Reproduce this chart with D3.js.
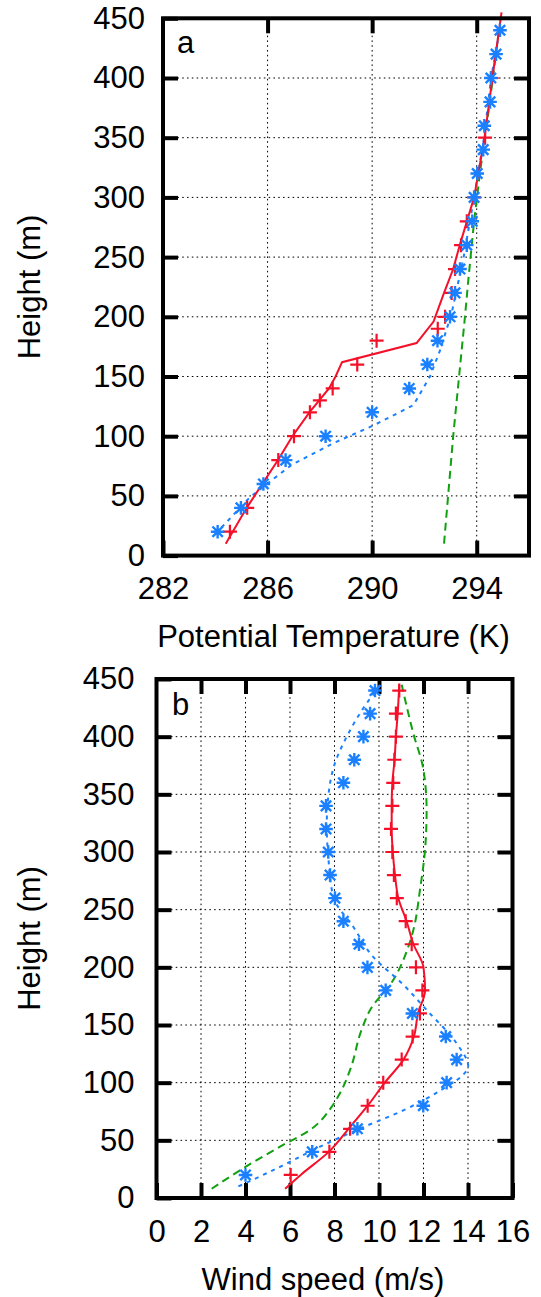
<!DOCTYPE html>
<html>
<head>
<meta charset="utf-8">
<script src="https://cdn.jsdelivr.net/npm/d3@7"></script>
<style>
  html, body { margin: 0; padding: 0; background: #fff; }
  svg { display: block; }
  text { font-family: "Liberation Sans", Arial, Helvetica, sans-serif; fill: #000; }
</style>
</head>
<body>
<svg id="chart" width="541" height="1297"></svg>
<script>
// ---------------- Panel a: potential temperature ----------------
const obsHeightsA = [20,40,60,80,100,120,140,160,180,200,220,240,260,280,300,320,340,360,380,400,420,440];
const obsThetaA   = [284.09,284.98,285.84,286.69,288.22,290.0,291.42,292.11,292.5,292.98,293.17,293.36,293.62,293.83,293.9,294.02,294.25,294.29,294.51,294.54,294.74,294.89];

const plusHeightsA = [20,40,80,100,120,130,140,160,180,190,200,220,240,260,280,300,350,400];
const plusThetaA   = [284.56,285.22,286.41,287.01,287.62,288.0,288.49,289.43,290.17,292.51,292.79,293.04,293.17,293.4,293.62,293.91,294.32,294.57];

const redLineHeightsA = [10,40,80,100,120,140,150,162,178,196,220,240,260,300,350,400,455];
const redLineThetaA   = [284.4,285.2,286.4,286.95,287.6,288.35,288.6,288.85,291.7,292.35,292.75,293.1,293.35,293.9,294.3,294.6,294.95];

const blueLineHeightsA = [18,49,76,94,109,126,150,172,203,250,300,350,400,440];
const blueLineThetaA   = [284.0,285.33,286.92,288.5,290.05,291.58,292.21,292.6,293.04,293.5,293.9,294.28,294.55,294.88];

const greenLineHeightsA = [10,100,200,231,280,320,380,440];
const greenLineThetaA   = [292.75,293.1,293.55,293.68,293.9,294.12,294.5,294.85];

const xTicksA = [282,286,290,294];
const xGridA  = [286,290,294];

// ---------------- Panel b: wind speed ----------------
const obsHeightsB = [20,40,60,80,100,120,140,160,180,200,220,240,260,280,300,320,340,360,380,400,420,440];
const obsWindB    = [4.0,7.0,9.03,11.99,13.04,13.49,13.0,11.5,10.3,9.48,9.1,8.4,8.02,7.8,7.72,7.62,7.62,8.4,8.89,9.3,9.6,9.82];

const plusHeightsB = [20,40,60,80,100,120,140,160,180,200,220,240,260,280,300,320,340,360,380,400,420,440];
const plusWindB    = [6.03,7.77,8.7,9.49,10.19,11.02,11.51,11.84,11.95,11.66,11.47,11.2,10.8,10.67,10.6,10.54,10.6,10.64,10.69,10.76,10.76,10.91];

const redLineHeightsB = [8,20,40,60,80,100,120,140,160,180,200,220,240,260,280,300,320,340,360,380,400,420,445];
const redLineWindB    = [5.78,6.48,7.74,8.63,9.49,10.26,11.1,11.57,11.75,12.07,12.0,11.55,11.24,10.87,10.72,10.62,10.57,10.57,10.6,10.7,10.76,10.84,10.91];

const blueLineHeightsB = [10,27,44.5,59,76,94,107,114,134,163,185,209,235,261,296,322,348,377,400,429,446];
const blueLineWindB    = [3.68,5.55,7.35,9.0,11.09,12.82,13.79,14.01,13.49,12.14,11.09,9.74,8.85,7.95,7.72,7.65,7.72,8.02,8.55,9.45,10.12];

const greenLineHeightsB = [8,24,44.5,59,79,91,111,146,163,189,218,232,267,302,336,371,403,445];
const greenLineWindB    = [2.48,3.75,5.55,6.9,7.87,8.25,8.7,9.22,9.6,10.64,11.32,11.54,11.84,12.07,12.14,12.0,11.54,11.02];

const xTicksB = [0,2,4,6,8,10,12,14,16];
const xGridB  = [2,4,6,8,10,12,14];

const yTicks = [0,50,100,150,200,250,300,350,400,450];
const yGrid  = [50,100,150,200,250,300,350,400];

// ---------------- drawing ----------------
const RED = "#f5102a", BLUE = "#1a80ff", GREEN = "#10a010";
const FONT = 31;
const svg = d3.select("#chart");

function zip(hs, vs) { return hs.map((h, i) => ({h: h, v: vs[i]})); }

function panel(cfg) {
  const x = d3.scaleLinear().domain(cfg.xDomain).range(cfg.xRange);
  const y = d3.scaleLinear().domain([0,450]).range(cfg.yRange);
  const g = svg.append("g");
  const [x0, x1] = cfg.xRange, [y0, y1] = cfg.yRange; // y0 bottom, y1 top

  // grid
  g.append("g").selectAll("line").data(cfg.xGrid).join("line")
    .attr("x1", d => x(d)).attr("x2", d => x(d)).attr("y1", y0).attr("y2", y1)
    .attr("stroke", "#000").attr("stroke-width", 1).attr("stroke-dasharray", "1.6,3.2");
  g.append("g").selectAll("line").data(yGrid).join("line")
    .attr("y1", d => y(d)).attr("y2", d => y(d)).attr("x1", x0).attr("x2", x1)
    .attr("stroke", "#000").attr("stroke-width", 1).attr("stroke-dasharray", "1.6,3.2");

  // axes (ticks inward)
  const styleAxis = sel => {
    sel.select(".domain").remove();
    sel.selectAll(".tick line").attr("stroke", "#000").attr("stroke-width", 4);
    sel.selectAll("text").attr("font-size", FONT).attr("font-family", "Liberation Sans, Arial, sans-serif").attr("fill", "#000");
  };
  g.append("g").attr("transform", `translate(0,${y0})`)
    .call(d3.axisBottom(x).tickValues(cfg.xTicks).tickSize(-15).tickPadding(cfg.xPad).tickFormat(d3.format("d")))
    .call(styleAxis);
  g.append("g").attr("transform", `translate(0,${y1})`)
    .call(d3.axisTop(x).tickValues(cfg.xGrid).tickSize(-15).tickFormat(""))
    .call(styleAxis);
  g.append("g").attr("transform", `translate(${x0},0)`)
    .call(d3.axisLeft(y).tickValues(yTicks).tickSize(-15).tickPadding(cfg.yPad).tickFormat(d3.format("d")))
    .call(styleAxis);
  g.append("g").attr("transform", `translate(${x1},0)`)
    .call(d3.axisRight(y).tickValues(yGrid).tickSize(-15).tickFormat(""))
    .call(styleAxis);

  const lineGen = d3.line().x(d => x(d.v)).y(d => y(d.h)).curve(cfg.curve);

  // green dashed
  g.append("path").datum(zip(cfg.green[0], cfg.green[1])).attr("d", lineGen)
    .attr("fill", "none").attr("stroke", GREEN).attr("stroke-width", 2).attr("stroke-dasharray", "8,5");
  // blue dotted
  g.append("path").datum(zip(cfg.blue[0], cfg.blue[1])).attr("d", lineGen)
    .attr("fill", "none").attr("stroke", BLUE).attr("stroke-width", 2).attr("stroke-dasharray", "4,5");
  // red solid
  g.append("path").datum(zip(cfg.red[0], cfg.red[1])).attr("d", lineGen)
    .attr("fill", "none").attr("stroke", RED).attr("stroke-width", 2);

  // red pluses
  const s = 7;
  g.append("g").selectAll("path").data(zip(cfg.plus[0], cfg.plus[1])).join("path")
    .attr("d", d => { const cx = x(d.v), cy = y(d.h);
      return `M${cx-s},${cy}H${cx+s}M${cx},${cy-s}V${cy+s}`; })
    .attr("stroke", RED).attr("stroke-width", 2.2).attr("fill", "none");
  // blue stars
  const r = 6.8, q = 5.2;
  g.append("g").selectAll("path").data(zip(cfg.obs[0], cfg.obs[1])).join("path")
    .attr("d", d => { const cx = x(d.v), cy = y(d.h);
      return `M${cx-r},${cy}H${cx+r}M${cx},${cy-r}V${cy+r}M${cx-q},${cy-q}L${cx+q},${cy+q}M${cx-q},${cy+q}L${cx+q},${cy-q}`; })
    .attr("stroke", BLUE).attr("stroke-width", 2.4).attr("fill", "none");

  // frame
  g.append("rect").attr("x", x0).attr("y", y1).attr("width", x1 - x0).attr("height", y0 - y1)
    .attr("fill", "none").attr("stroke", "#000").attr("stroke-width", 4);

  // panel letter
  g.append("text").attr("x", cfg.letterPos[0]).attr("y", cfg.letterPos[1])
    .attr("font-size", FONT).text(cfg.letter);
  // axis titles
  g.append("text").attr("x", cfg.xTitlePos[0]).attr("y", cfg.xTitlePos[1])
    .attr("text-anchor", "middle").attr("font-size", FONT).text(cfg.xTitle);
  g.append("text").attr("transform", `translate(40,${(y0 + y1) / 2}) rotate(-90)`)
    .attr("text-anchor", "middle").attr("font-size", FONT).text("Height (m)");
}

panel({
  xDomain: [282,296], xRange: [163,529], yRange: [555.6,18.3],
  xTicks: xTicksA, xGrid: xGridA, xPad: 21, yPad: 18,
  curve: d3.curveLinear,
  green: [greenLineHeightsA, greenLineThetaA],
  blue: [blueLineHeightsA, blueLineThetaA],
  red: [redLineHeightsA, redLineThetaA],
  plus: [plusHeightsA, plusThetaA],
  obs: [obsHeightsA, obsThetaA],
  letter: "a", letterPos: [177, 53],
  xTitle: "Potential Temperature (K)", xTitlePos: [333.5, 647]
});

panel({
  xDomain: [0,16], xRange: [156.5,512.5], yRange: [1198,679],
  xTicks: xTicksB, xGrid: xGridB, xPad: 22, yPad: 22,
  curve: d3.curveMonotoneY,
  green: [greenLineHeightsB, greenLineWindB],
  blue: [blueLineHeightsB, blueLineWindB],
  red: [redLineHeightsB, redLineWindB],
  plus: [plusHeightsB, plusWindB],
  obs: [obsHeightsB, obsWindB],
  letter: "b", letterPos: [172, 715],
  xTitle: "Wind speed (m/s)", xTitlePos: [323, 1290]
});
</script>
</body>
</html>
